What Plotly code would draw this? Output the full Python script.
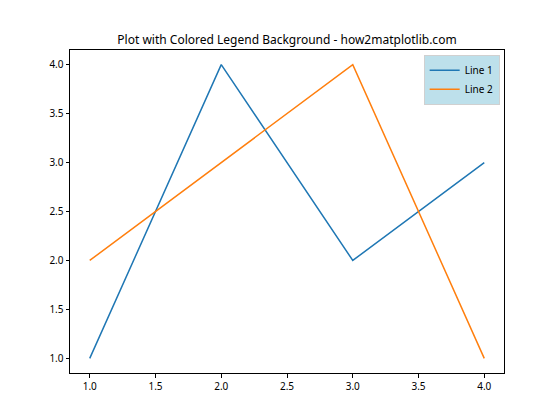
import plotly.graph_objects as go

x = [1, 2, 3, 4]
line1 = [1, 4, 2, 3]
line2 = [2, 3, 4, 1]
xticks = [1.0, 1.5, 2.0, 2.5, 3.0, 3.5, 4.0]
yticks = [1.0, 1.5, 2.0, 2.5, 3.0, 3.5, 4.0]

fig = go.Figure()
fig.add_trace(go.Scatter(x=x, y=line1, mode="lines", name="Line 1",
                         line=dict(color="#1f77b4", width=1.5)))
fig.add_trace(go.Scatter(x=x, y=line2, mode="lines", name="Line 2",
                         line=dict(color="#ff7f0e", width=1.5)))

axis_common = dict(showgrid=False, zeroline=False, showline=True, linecolor="black",
                   linewidth=1, mirror=True, ticks="outside", ticklen=3.5,
                   tickwidth=1, tickcolor="black", tickfont=dict(size=10, color="black"))
fig.update_layout(
    width=560, height=420,
    margin=dict(l=70, r=56, t=50, b=47),
    paper_bgcolor="white", plot_bgcolor="white",
    font=dict(family="Noto Sans, DejaVu Sans, sans-serif", color="black"),
    title=dict(text="Plot with Colored Legend Background - how2matplotlib.com",
               x=(70 + 504) / 2 / 560, xanchor="center", y=1 - 40 / 420, yanchor="middle",
               font=dict(size=12)),
    xaxis=dict(range=[0.85, 4.15], tickvals=xticks,
               ticktext=[f"{v:.1f}" for v in xticks], **axis_common),
    yaxis=dict(range=[0.85, 4.15], tickvals=yticks,
               ticktext=[f"{v:.1f}" for v in yticks], **axis_common),
    legend=dict(x=0.99, y=0.985, xanchor="right", yanchor="top",
                bgcolor="rgba(173,216,230,0.8)", bordercolor="#d0d0d0", borderwidth=1,
                font=dict(size=10), tracegroupgap=0, itemwidth=30),
    showlegend=True,
)
fig.write_html("out.html", config={"displayModeBar": False},
               post_script="document.body.style.margin='0';document.body.style.overflow='hidden';")
